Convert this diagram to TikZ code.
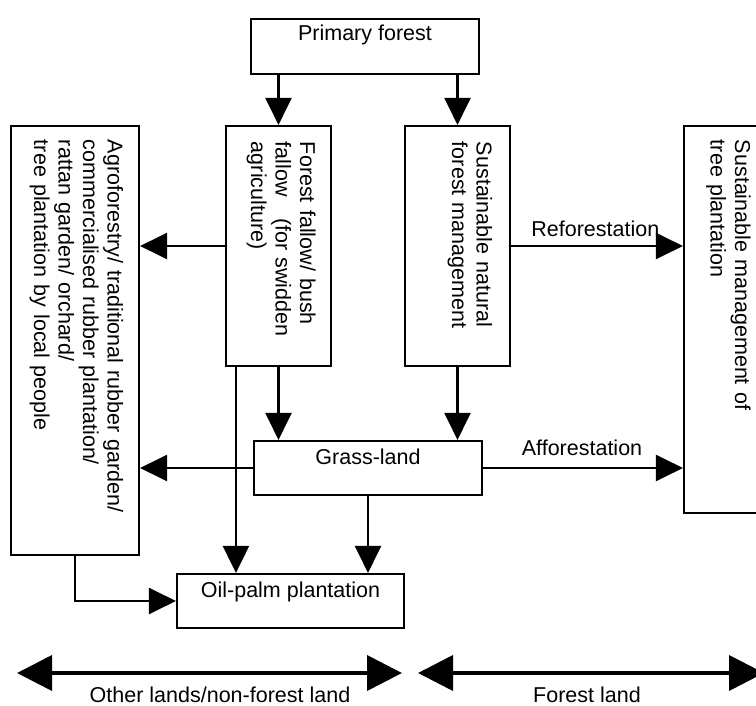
\documentclass[tikz,border=0pt]{standalone}
\usepackage{fontspec}
\setmainfont{Liberation Sans}
\usetikzlibrary{arrows.meta}
\begin{document}
\begin{tikzpicture}[x=1pt,y=-1pt,
  font=\fontsize{21.5}{24.5}\selectfont,
  box/.style={draw, line width=2.1pt, inner sep=0pt, fill=white},
  vbox/.style={box, rotate=-90, align=left, inner ysep=0pt},
  arr/.style={line width=2.1pt, -{Triangle[length=27pt,width=26pt]}},
  big/.style={line width=3.8pt, {Triangle[length=35pt,width=35pt]}-{Triangle[length=35pt,width=35pt]}},
]
\clip (0,0) rectangle (756,706);
\fill[white] (0,0) rectangle (756,706);

% horizontal boxes
\node[box, minimum width=228pt, text height=21.7pt, text depth=33.3pt] (prim) at (365,46.5) {Primary forest};
\node[box, minimum width=228pt, text height=23.5pt, text depth=30.5pt] (grass) at (368,468) {Grass-land};
\node[box, minimum width=227pt, text height=23.5pt, text depth=30.5pt] (oil) at (290.5,601) {Oil-palm plantation};

% rotated boxes (text runs downwards)
\node[vbox, minimum width=429pt, inner xsep=14pt, text width=401pt, text height=31.5pt, text depth=96.5pt] (agro) at (75,340.5)
  {Agroforestry/ traditional rubber garden/\\commercialised rubber plantation/\\rattan garden/ orchard/\\tree plantation by local people};
\node[vbox, minimum width=240pt, inner xsep=16pt, text width=208pt, text height=31pt, text depth=74pt] (fallow) at (278.5,246)
  {Forest fallow/ bush\\fallow\hspace{14pt} (for swidden\\agriculture)};
\node[vbox, minimum width=240pt, inner xsep=16pt, text width=208pt, text height=33.3pt, text depth=71.7pt] (sust) at (457.5,246)
  {Sustainable natural\\forest management};
\node[vbox, minimum width=387pt, inner xsep=14pt, text width=359pt, text height=55pt, text depth=51pt] (plant) at (737,319.5)
  {Sustainable management of\\tree plantation};

% connectors (rotated boxes: .south = left side, .north = right side, .west = top, .east = bottom)
\draw[arr] (prim.south -| fallow) -- (fallow.west);
\draw[arr] (prim.south -| sust) -- (sust.west);
\draw[arr] (fallow.south) -- (fallow.south -| agro.north);
\draw[arr] (sust.north) -- node[pos=0.49, anchor=base, yshift=9.5pt]{Reforestation} (sust.north -| plant.south);
\draw[arr] (fallow.east) -- (fallow.east |- grass.north);
\draw[arr] (sust.east) -- (sust.east |- grass.north);
\coordinate (f1) at ([xshift=11pt]fallow.south east);
\draw[arr] (f1) -- (f1 |- oil.north);
\draw[arr] (grass.west) -- (grass.west -| agro.north);
\draw[arr] (grass.east) -- node[pos=0.495, anchor=base, yshift=12.5pt]{Afforestation} (grass.east -| plant.south);
\draw[arr] (grass.south) -- (grass.south |- oil.north);
\draw[arr] (agro.east) |- (oil.west);

% land-type span arrows
\coordinate (l1) at (17,673);
\coordinate (l2) at (402,673);
\coordinate (r1) at (418,673);
\coordinate (r2) at (764,673);
\draw[big] (l1) -- (l2);
\draw[big] (r1) -- (r2);
\node[anchor=base, inner sep=0pt] (otherlab) at (220,702) {Other lands/non-forest land};
\node[anchor=base, inner sep=0pt] (forestlab) at (587,702) {Forest land};
\end{tikzpicture}
\end{document}
